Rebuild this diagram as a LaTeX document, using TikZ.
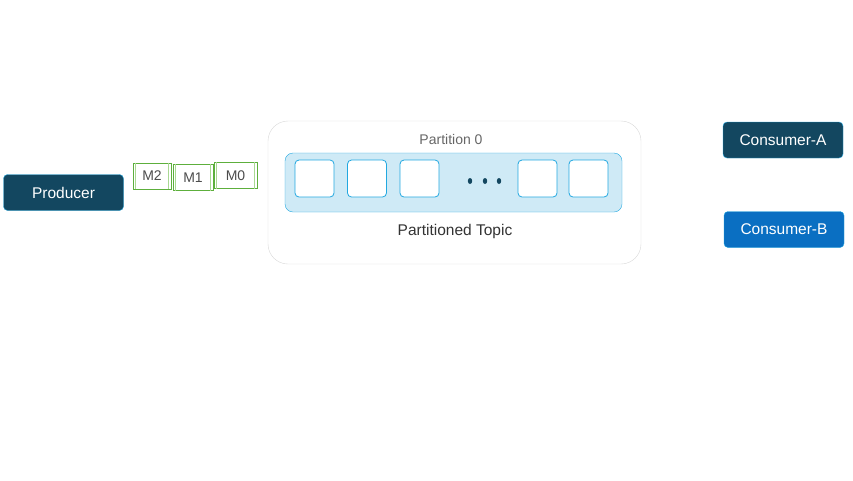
\documentclass[tikz,border=0pt]{standalone}
\usepackage{fontspec}
\setmainfont{Liberation Sans}
\definecolor{navy}{HTML}{134760}
\definecolor{edgeblue}{HTML}{22A8E0}
\definecolor{consb}{HTML}{0A6FC2}
\definecolor{msggreen}{HTML}{5DAF3C}
\definecolor{msgbar}{HTML}{A9D893}
\definecolor{partfill}{HTML}{CFEAF6}
\definecolor{topicline}{HTML}{D8D8D8}
\begin{document}
\begin{tikzpicture}[x=1pt, y=-1pt, font=\fontsize{14}{16}\selectfont,
    actor/.style = {draw=edgeblue, fill=navy, text=white, rounded corners=4pt, minimum width=120pt, minimum height=36pt, font=\fontsize{15.5}{18}\selectfont},
    msg/.style = {draw=msggreen, fill=white, text=black!70, minimum height=26pt, inner sep=0pt, line width=0.8pt},
    slot/.style = {draw=edgeblue, fill=white, rounded corners=4pt, minimum width=39pt, minimum height=37pt, line width=0.8pt}]

    \useasboundingbox (0,0) rectangle (853,480);

    % producer and messages
    \node [actor] (producer) at (63.5,192.5) {Producer};
    \node [msg, minimum width=38pt] (m2) at (152,176) {M2};
    \node [msg, minimum width=40pt] (m1) at (193,177.5) {M1};
    \node [msg, minimum width=43pt] (m0) at (235.5,175.5) {M0};
    \foreach \m in {m2,m1,m0} {
        \draw[msgbar, line width=1.3pt] ([xshift=3pt]\m.north west) -- ([xshift=3pt]\m.south west);
        \draw[msgbar, line width=1.3pt] ([xshift=-3pt]\m.north east) -- ([xshift=-3pt]\m.south east);
    }

    % topic
    \node [draw=topicline, rounded corners=20pt, minimum width=373pt, minimum height=143pt] (topic) at (454.5,192.5) {};
    \node [draw=edgeblue, fill=partfill, rounded corners=8pt, minimum width=337pt, minimum height=59pt] (part) at (453.5,182.5) {};
    \node [text=black!60] (ptitle) at (451,139) {Partition 0};
    \node [text=black!80, font=\fontsize{15.5}{18}\selectfont] (tname) at (455,231) {Partitioned Topic};

    \node [slot] (s1) at (314.5,178.5) {};
    \node [slot] (s2) at (367,178.5) {};
    \node [slot] (s3) at (419.5,178.5) {};
    \node [slot] (s4) at (537.5,178.5) {};
    \node [slot] (s5) at (588.5,178.5) {};
    \foreach \x in {470,485,499}
        \fill[navy] (\x,181) ellipse (2.2pt and 3pt);

    % consumers
    \node [actor] (consa) at (783,140) {Consumer-A};
    \node [actor, fill=consb] (consb) at (784,229.5) {Consumer-B};

\end{tikzpicture}
\end{document}
